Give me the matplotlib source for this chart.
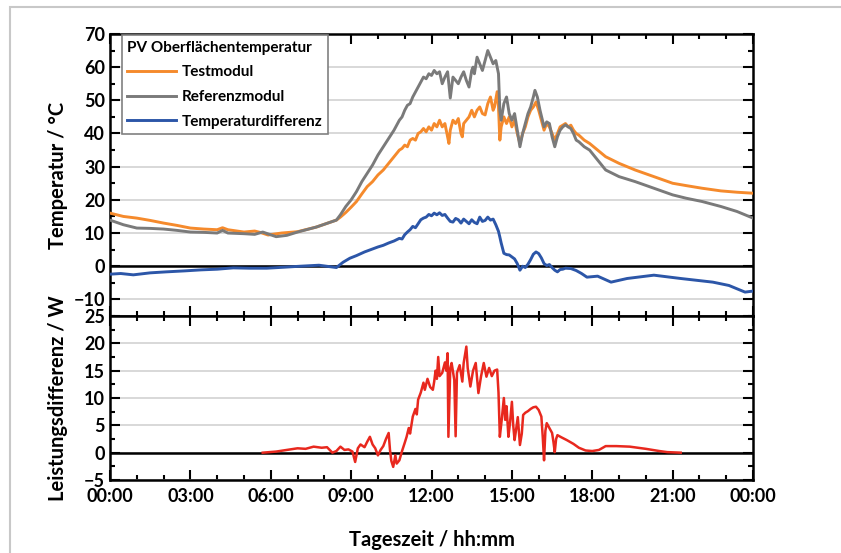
import numpy as np
import matplotlib.pyplot as plt
from matplotlib.ticker import MultipleLocator, FixedLocator
from matplotlib.patches import Rectangle

plt.rcParams['font.family'] = ['Lato', 'DejaVu Sans']
plt.rcParams['font.weight'] = 'bold'
plt.rcParams['axes.labelweight'] = 'bold'

# Testmodul (orange)
t_test = [0, 0.5, 1, 1.5, 2, 2.5, 3, 3.5, 4, 4.2, 4.4, 5, 5.4, 5.6, 5.9, 6.4, 7, 7.7, 8.45,
          8.6, 8.8, 9.0, 9.2, 9.4, 9.6, 9.8, 10.0, 10.2, 10.4, 10.6, 10.8, 10.9, 11.0, 11.1, 11.2,
          11.3, 11.4, 11.5, 11.6, 11.7, 11.8, 11.9, 12.0, 12.1, 12.2, 12.3, 12.4, 12.5, 12.6, 12.65,
          12.7, 12.8, 12.9, 13.0, 13.1, 13.15, 13.2, 13.3, 13.4, 13.5, 13.6, 13.7, 13.8, 13.9, 14.0,
          14.1, 14.2, 14.3, 14.35, 14.45, 14.5, 14.55, 14.6, 14.7, 14.8, 14.9, 15.0, 15.1, 15.2,
          15.3, 15.4, 15.5, 15.6, 15.7, 15.8, 15.9, 16.0, 16.1, 16.2, 16.3, 16.4, 16.5, 16.6, 16.7,
          16.8, 16.9, 17.0, 17.1, 17.2, 17.3, 17.4, 17.5, 17.7, 17.9, 18.5, 19.0, 19.6, 20.3, 21.0,
          21.5, 22.1, 22.8, 23.4, 24]
v_test = [16, 15, 14.5, 13.8, 13, 12.3, 11.5, 11.2, 11, 11.6, 11, 10.3, 10.6, 10.2, 9.4, 10, 10.4, 11.8, 13.9,
          14.8, 16.2, 17.8, 19.5, 21.8, 24, 25.5, 27.5, 29, 31, 33, 35, 35.5, 36.5, 36, 38,
          38.5, 38, 40, 40.5, 41.5, 40.5, 42, 41, 43, 42, 44, 42, 43, 39, 37,
          41, 44, 43, 44.5, 40, 39, 43, 44, 45, 47, 45, 47, 48, 46, 45.6,
          49, 51, 47, 48, 52.6, 48, 38, 42, 45, 43, 45, 42, 44, 40,
          37, 40, 42, 45, 47, 48, 49.5, 47, 44, 41, 43, 42, 40, 38, 40,
          42, 42.5, 43, 42, 42.5, 41, 40, 39.5, 38, 37, 33, 31, 29, 27, 25,
          24.3, 23.5, 22.7, 22.3, 22]

# Referenzmodul (grau)
t_ref = [0, 0.5, 1, 1.5, 2, 2.5, 3, 3.5, 4, 4.2, 4.4, 5, 5.4, 5.7, 6.2, 6.6, 7, 7.7, 8.45,
         8.6, 8.8, 9.0, 9.2, 9.4, 9.6, 9.8, 10.0, 10.2, 10.4, 10.6, 10.8, 10.9, 11.0, 11.1, 11.2,
         11.3, 11.4, 11.5, 11.6, 11.7, 11.8, 11.9, 12.0, 12.1, 12.2, 12.3, 12.4, 12.5, 12.6, 12.7,
         12.8, 12.9, 13.0, 13.1, 13.2, 13.3, 13.4, 13.5, 13.55, 13.6, 13.7, 13.8, 13.9, 14.0, 14.1,
         14.2, 14.3, 14.4, 14.5, 14.55, 14.6, 14.7, 14.8, 14.9, 15.0, 15.1, 15.2, 15.3, 15.4, 15.5,
         15.6, 15.7, 15.8, 15.86, 15.95, 16.05, 16.2, 16.3, 16.4, 16.5, 16.6, 16.7, 16.8, 16.9, 17.0,
         17.1, 17.2, 17.3, 17.4, 17.5, 17.7, 17.9, 18.5, 19.0, 19.6, 20.3, 21.0, 21.5, 22.1, 22.8,
         23.4, 24]
v_ref = [13.9, 12.5, 11.5, 11.4, 11.2, 10.8, 10.3, 10.2, 10.0, 10.8, 10.0, 9.8, 9.6, 10.3, 8.9, 9.3, 10.3, 11.8, 13.9,
         15.5, 18, 20, 22.5, 25.5, 28, 30.5, 33.5, 36, 38.5, 41, 44, 45, 47, 48.5, 49,
         51, 52.5, 54, 55.5, 57, 56.5, 58, 57.5, 59, 58, 58.6, 55, 57, 58.6, 50.7,
         57, 56, 55, 57, 58.6, 56, 54, 59, 60, 58, 63, 61, 59, 62, 65,
         63, 61, 62, 58, 47, 44, 49, 51, 46, 44, 46, 41, 36, 40, 43,
         46, 48, 51, 53, 51, 47, 42, 43.5, 43, 39, 36, 39, 41, 42, 42.6,
         42, 41.5, 40, 38, 37.5, 36, 35, 29, 27, 25.5, 23.5, 21.5, 20.5, 19.5, 18,
         16.5, 14.5]

# Temperaturdifferenz (blau)
t_diff = [0, 0.4, 0.87, 1.5, 2.1, 2.8, 3.4, 4, 4.6, 5.2, 5.85, 6.5, 7.1, 7.8, 8.45,
          8.7, 8.95, 9.2, 9.5, 9.8, 10.0, 10.2, 10.4, 10.6, 10.8, 10.9, 11.0, 11.1, 11.2, 11.3,
          11.4, 11.5, 11.6, 11.7, 11.8, 11.9, 12.0, 12.1, 12.2, 12.3, 12.4, 12.5, 12.6, 12.7, 12.8,
          12.9, 13.0, 13.1, 13.2, 13.3, 13.4, 13.5, 13.6, 13.7, 13.8, 13.9, 14.0, 14.1, 14.2, 14.3,
          14.4, 14.5, 14.55, 14.6, 14.7, 14.8, 14.9, 15.0, 15.1, 15.2, 15.3, 15.4, 15.5, 15.6, 15.7,
          15.8, 15.9, 16.0, 16.1, 16.2, 16.3, 16.4, 16.5, 16.6, 16.7, 16.8, 16.9, 17.0, 17.2, 17.4,
          17.6, 17.8, 18.2, 18.7, 19.3, 20.3, 21.3, 22.5, 23.1, 23.7, 24]
v_diff = [-2.4, -2.2, -2.6, -2.0, -1.7, -1.4, -1.1, -0.9, -0.5, -0.6, -0.6, -0.3, 0, 0.3, -0.4,
          1.2, 2.4, 3.2, 4.3, 5.2, 5.8, 6.3, 7.0, 7.6, 8.4, 8.2, 9.5, 10.3, 11.0, 12.0,
          11.6, 12.8, 14.0, 14.5, 14.8, 15.6, 15.2, 16.0, 15.5, 16.1, 15.3, 15.6, 14.5, 13.5, 13.3,
          14.4, 14.0, 13.0, 14.2, 13.5, 12.8, 14.0, 13.2, 12.8, 14.8, 13.5, 13.8, 14.8, 13.9, 14.2,
          12.5, 10.5, 8.8, 7.0, 3.9, 3.5, 3.4, 2.8, 2.2, 0.8, -1.2, 0.0, -0.4, 0.6, 2.0,
          3.6, 4.3, 3.8, 2.5, 0.8, 0.2, 0.5, -0.4, -1.2, -1.7, -1.0, -0.9, -0.6, -0.7, -1.3,
          -2.2, -3.3, -3.0, -4.8, -3.7, -2.7, -3.7, -4.8, -5.8, -7.8, -7.5]

# Leistungsdifferenz (rot)
t_power = [5.7, 6.2, 6.6, 7.0, 7.3, 7.6, 7.9, 8.1, 8.3, 8.45, 8.6, 8.75, 8.9, 9.05, 9.15, 9.25,
           9.35, 9.5, 9.6, 9.7, 9.8, 9.9, 10.0, 10.1, 10.2, 10.3, 10.4, 10.45, 10.5, 10.57, 10.65,
           10.7, 10.8, 10.9, 11.0, 11.07, 11.15, 11.2, 11.3, 11.4, 11.45, 11.5, 11.6, 11.7, 11.75,
           11.85, 11.95, 12.05, 12.1, 12.15, 12.2, 12.25, 12.3, 12.4, 12.5, 12.55, 12.6, 12.63, 12.7,
           12.75, 12.85, 12.9, 12.95, 13.05, 13.15, 13.2, 13.3, 13.35, 13.45, 13.55, 13.65, 13.75,
           13.85, 13.95, 14.05, 14.15, 14.25, 14.35, 14.45, 14.5, 14.55, 14.62, 14.7, 14.75, 14.8,
           14.87, 14.93, 15.0, 15.05, 15.1, 15.15, 15.22, 15.3, 15.37, 15.42, 15.5, 15.6, 15.7, 15.8,
           15.9, 16.0, 16.1, 16.15, 16.2, 16.25, 16.3, 16.4, 16.5, 16.55, 16.6, 16.65, 16.7, 16.85,
           17.05, 17.3, 17.5, 17.75, 18.0, 18.25, 18.5, 18.9, 19.4, 20.0, 20.5, 20.8, 21.3]
v_power = [0, 0.2, 0.5, 0.8, 0.7, 1.1, 0.9, 1.0, 0, 0.3, 1.1, 0.5, 0.6, 0.2, -1.7, 0.8,
           1.5, 1.0, 2.0, 2.9, 1.5, 0.8, -0.5, 0.5, 1.2, 2.5, 3.6, 0.5, -1.5, -2.6, -0.5,
           -2.0, -1.4, 0.3, 1.8, 2.9, 4.5, 3.5, 6.6, 8.0, 7.0, 9.7, 11.0, 12.8, 11.5,
           13.5, 12.0, 11.5, 13.0, 15.0, 13.5, 17.5, 14.0, 14.6, 16.5, 15.0, 18.2, 2.9, 15.5,
           16.4, 13.3, 3.0, 14.6, 16.0, 13.0, 16.4, 19.4, 15.5, 12.1, 15.0, 16.4, 10.9,
           14.0, 16.4, 13.9, 15.5, 14.0, 15.0, 15.2, 11.0, 2.9, 6.0, 10.0, 6.0, 8.5,
           2.9, 5.5, 9.3, 5.0, 2.3, 4.0, 6.5, 1.4, 3.5, 6.9, 7.3, 7.6, 8.0, 8.3,
           8.4, 7.8, 6.6, 3.0, -1.4, 4.0, 5.4, 4.5, 3.6, 2.0, 0.1, 2.5, 3.2, 2.8,
           2.3, 1.6, 0.9, 0.4, 0.3, 0.5, 1.2, 1.2, 1.1, 0.7, 0.3, 0.1, 0]

x_ticks = [0, 3, 6, 9, 12, 15, 18, 21, 24]
x_labels = ['00:00', '03:00', '06:00', '09:00', '12:00', '15:00', '18:00', '21:00', '00:00']

fig = plt.figure(figsize=(8.41, 5.53), dpi=100)
ax1 = fig.add_axes([0.1308, 0.4286, 0.7646, 0.51])
ax2 = fig.add_axes([0.1308, 0.132, 0.7646, 0.2966], sharex=ax1)

# heller Rahmen um die Grafik
fig.add_artist(Rectangle((10 / 841, -0.1), 1.2, 1.1 - 7 / 553, transform=fig.transFigure,
                         fill=False, ec='#c8c8c8', lw=1.5))

ax1.plot(t_test, v_test, color='#f58a2c', lw=2.1, label='Testmodul', zorder=3)
ax1.plot(t_ref, v_ref, color='#7a7a7a', lw=2.1, label='Referenzmodul', zorder=3)
ax1.plot(t_diff, v_diff, color='#2c56a8', lw=2.1, label='Temperaturdifferenz', zorder=3)
ax1.axhline(0, color='black', lw=1.8, zorder=2)
ax1.set_ylim(-15, 70)
ax1.yaxis.set_major_locator(FixedLocator([-10, 0, 10, 20, 30, 40, 50, 60, 70]))
ax1.yaxis.set_minor_locator(MultipleLocator(5))
ax1.set_ylabel('Temperatur / °C', fontsize=14.5)

ax2.plot(t_power, v_power, color='#e8281e', lw=1.8, zorder=3)
ax2.axhline(0, color='black', lw=1.8, zorder=2)
ax2.set_ylim(-5, 25)
ax2.yaxis.set_major_locator(MultipleLocator(5))
ax2.yaxis.set_minor_locator(MultipleLocator(2.5))
ax2.set_ylabel('Leistungsdifferenz / W', fontsize=14.5)
ax2.set_xlabel('Tageszeit / hh:mm', fontsize=14.5, labelpad=18)

ax2.set_xlim(0, 24)
ax2.xaxis.set_major_locator(FixedLocator(x_ticks))
ax2.set_xticklabels(x_labels)
ax2.xaxis.set_minor_locator(MultipleLocator(1))

for ax in [ax1, ax2]:
    ax.grid(axis='y', color='#d2d2d2', lw=1.2, zorder=0)
    ax.set_axisbelow(True)
    for s in ax.spines.values():
        s.set_linewidth(1.8)
    ax.tick_params(which='both', direction='in', top=True, right=True, labelsize=13, width=1.5)
    ax.tick_params(which='major', length=7)
    ax.tick_params(which='minor', length=3.5)
    ax.tick_params(axis='x', pad=6)
    ax.yaxis.set_label_coords(-0.065, 0.5)
ax1.tick_params(labelbottom=False)

leg = ax1.legend(title='PV Oberflächentemperatur', loc='upper left', bbox_to_anchor=(0.018, 0.995),
                 fontsize=11, title_fontsize=11, frameon=True, fancybox=False, framealpha=1,
                 edgecolor='#808080', borderpad=0.35, handlelength=3.2, handletextpad=0.4,
                 labelspacing=0.7, alignment='left', borderaxespad=0)
leg.get_frame().set_linewidth(1.2)

plt.savefig('out.png', dpi=100)
